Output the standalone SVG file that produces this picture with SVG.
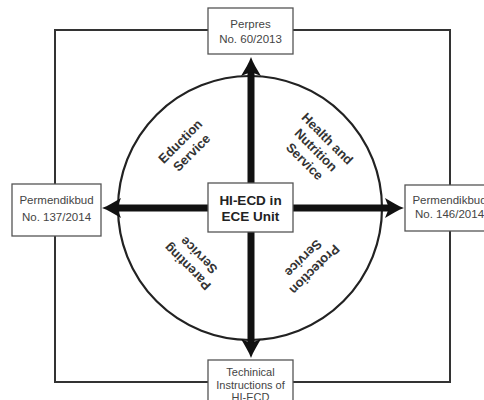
<svg xmlns="http://www.w3.org/2000/svg" width="484" height="400" viewBox="0 0 484 400">
<style>
.frame{fill:none;stroke:#333;stroke-width:2}
.box{fill:#fff;stroke:#555;stroke-width:1.3}
.circ{fill:none;stroke:#222;stroke-width:2.2}
.arr{fill:none;stroke:#111;stroke-width:7;marker-end:url(#ah)}
.lbl{font-family:"Liberation Sans",Arial,sans-serif;font-size:11.5px;fill:#444;text-anchor:middle}
.ctr{font-family:"Liberation Sans",Arial,sans-serif;font-size:13.5px;font-weight:bold;fill:#222;text-anchor:middle}
.svc{font-family:"Liberation Sans",Arial,sans-serif;font-size:13px;font-weight:bold;fill:#333;text-anchor:middle}
</style>
<defs>
<marker id="ah" markerUnits="userSpaceOnUse" viewBox="-20 -11 21 22" markerWidth="21" markerHeight="22" refX="-12" refY="0" orient="auto">
<path d="M0,0 C-6,-2 -12,-6 -19,-10 L-15,0 L-19,10 C-12,6 -6,2 0,0Z" fill="#111"/>
</marker>
</defs>
<rect width="484" height="400" fill="#fff"/>
<g id="connectors">
<rect class="frame" x="55" y="30" width="395" height="352"/>
<circle class="circ" cx="250" cy="208" r="132"/>
<path class="arr" d="M251,208 L251,69"/>
<path class="arr" d="M251,208 L251,346"/>
<path class="arr" d="M251,208 L114,208"/>
<path class="arr" d="M251,208 L392,208"/>
</g>
<g id="top">
<rect class="box" x="208" y="8" width="85" height="46"/>
<text class="lbl" x="250.5" y="28">Perpres</text>
<text class="lbl" x="250.5" y="43">No. 60/2013</text>
</g>
<g id="left">
<rect class="box" x="12" y="184" width="89" height="52"/>
<text class="lbl" x="56.5" y="204">Permendikbud</text>
<text class="lbl" x="56.5" y="221">No. 137/2014</text>
</g>
<g id="right">
<rect class="box" x="405" y="185" width="89" height="46"/>
<text class="lbl" x="449.5" y="204">Permendikbud</text>
<text class="lbl" x="449.5" y="218">No. 146/2014</text>
</g>
<g id="bottom">
<rect class="box" x="208" y="360" width="85" height="48"/>
<text class="lbl" x="250.5" y="376" style="font-size:11px">Techinical</text>
<text class="lbl" x="250.5" y="388.5" style="font-size:11px">Instructions of</text>
<text class="lbl" x="250.5" y="401" style="font-size:11px">HI-ECD</text>
</g>
<g id="center">
<rect class="box" x="208" y="183" width="85" height="49"/>
<text class="ctr" x="250.5" y="205">HI-ECD in</text>
<text class="ctr" x="250.5" y="221">ECE Unit</text>
</g>
<g id="education">
<text class="svc" transform="translate(186,147) rotate(-45)"><tspan x="0" y="-3.5">Eduction</tspan><tspan x="0" y="12.5">Service</tspan></text>
</g>
<g id="health">
<text class="svc" transform="translate(316,150) rotate(45)"><tspan x="0" y="-11.5">Health and</tspan><tspan x="0" y="4.5">Nutrition</tspan><tspan x="0" y="20.5">Service</tspan></text>
</g>
<g id="parenting">
<text class="svc" transform="translate(193,261) rotate(225)"><tspan x="0" y="-3.5">Parenting</tspan><tspan x="0" y="12.5">Service</tspan></text>
</g>
<g id="protection">
<text class="svc" transform="translate(309,264) rotate(135)"><tspan x="0" y="-3.5">Protection</tspan><tspan x="0" y="12.5">Service</tspan></text>
</g>
</svg>
